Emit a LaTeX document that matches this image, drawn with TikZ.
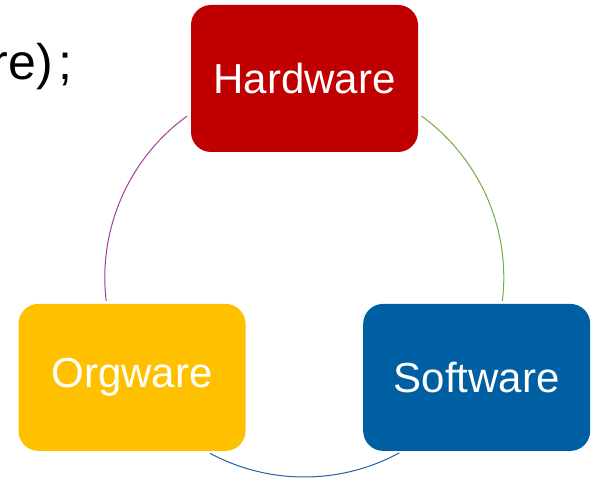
\documentclass[tikz,border=0pt]{standalone}
\usepackage{fontspec}
\setmainfont{Liberation Sans}
\definecolor{hwred}{HTML}{C00000}
\definecolor{orgyellow}{HTML}{FFC000}
\definecolor{swblue}{HTML}{005FA2}
\definecolor{arcpurple}{HTML}{A0409A}
\definecolor{arcgreen}{HTML}{70AD47}
\definecolor{arcblue}{HTML}{1F62A8}
\begin{document}
\begin{tikzpicture}[x=1pt,y=1pt,
  wbox/.style={rectangle,rounded corners=20pt,minimum width=227pt,minimum height=147pt,
    inner sep=0pt,text=white,font=\fontsize{42}{50}\selectfont},
  link/.style={line width=1pt}]
\useasboundingbox (0,0) rectangle (598,479);
\node[wbox,fill=hwred] (hw) at (304.5,400.5) {Hardware};
\node[wbox,fill=orgyellow] (org) at (132,101.6) {Orgware};
\node[wbox,fill=swblue] (sw) at (476.7,101.6) {Software};
\coordinate (c) at (304.3,201.5);
\node[anchor=base west,inner sep=0pt,font=\fontsize{50}{60}\selectfont] (frag) at (-8.5,399) {re)\kern6pt;};
\draw[link,arcgreen] ([shift={(54:199.5)}]c) arc[start angle=54,end angle=-6.7,radius=199.5];
\draw[link,arcblue] ([shift={(298.5:199.5)}]c) arc[start angle=298.5,end angle=241.8,radius=199.5];
\draw[link,arcpurple] ([shift={(186.7:199.5)}]c) arc[start angle=186.7,end angle=126,radius=199.5];
\end{tikzpicture}
\end{document}
